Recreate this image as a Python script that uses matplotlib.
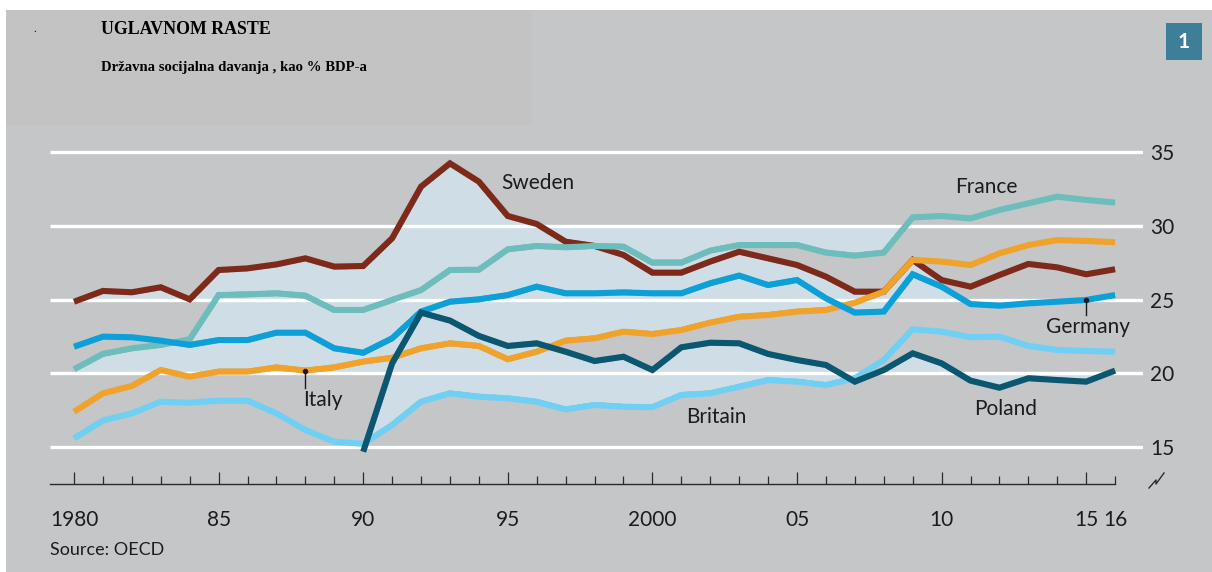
import numpy as np
import matplotlib
matplotlib.use("Agg")
import matplotlib.pyplot as plt
from matplotlib.patches import Rectangle
from matplotlib.lines import Line2D

# ---------------- data ----------------
years = list(range(1980, 2017))
sweden = [24.85, 25.58, 25.49, 25.83, 25.01, 27.0, 27.11, 27.38, 27.79, 27.23,
          27.27, 29.15, 32.65, 34.23, 32.99, 30.66, 30.12, 28.92, 28.63, 28.02,
          26.82, 26.82, 27.57, 28.24, 27.79, 27.34, 26.55, 25.53, 25.53, 27.68,
          26.32, 25.87, 26.66, 27.41, 27.18, 26.71, 27.05]
france = [20.27, 21.31, 21.69, 21.92, 22.3, 25.3, 25.35, 25.42, 25.26, 24.29,
          24.29, 24.97, 25.64, 27.0, 27.02, 28.4, 28.63, 28.54, 28.63, 28.58,
          27.5, 27.5, 28.31, 28.69, 28.69, 28.69, 28.18, 27.97, 28.18, 30.57,
          30.66, 30.5, 31.07, 31.52, 31.97, 31.75, 31.57]
germany = [21.8, 22.48, 22.44, 22.21, 21.92, 22.25, 22.25, 22.75, 22.75, 21.69,
           21.39, 22.37, 24.18, 24.85, 25.01, 25.3, 25.87, 25.42, 25.42, 25.48,
           25.42, 25.42, 26.1, 26.62, 25.98, 26.32, 25.08, 24.11, 24.18, 26.71,
           25.87, 24.69, 24.58, 24.74, 24.85, 24.97, 25.3]
italy = [17.39, 18.64, 19.14, 20.22, 19.77, 20.11, 20.11, 20.4, 20.18, 20.4,
         20.79, 21.05, 21.69, 22.03, 21.85, 20.95, 21.46, 22.21, 22.37, 22.82,
         22.66, 22.93, 23.43, 23.83, 23.95, 24.18, 24.29, 24.78, 25.53, 27.68,
         27.57, 27.34, 28.13, 28.69, 29.03, 28.97, 28.88]
britain = [15.59, 16.79, 17.28, 18.07, 18.0, 18.14, 18.14, 17.28, 16.15, 15.36,
           15.22, 16.49, 18.07, 18.64, 18.41, 18.3, 18.07, 17.55, 17.85, 17.73,
           17.7, 18.53, 18.64, 19.09, 19.54, 19.43, 19.2, 19.66, 20.9, 22.98,
           22.82, 22.44, 22.48, 21.85, 21.58, 21.51, 21.46]
poland_years = list(range(1990, 2017))
poland = [14.68, 20.67, 24.11, 23.57, 22.53, 21.85, 22.03, 21.46, 20.83, 21.12,
          20.22, 21.76, 22.07, 22.03, 21.31, 20.9, 20.56, 19.43, 20.22, 21.35,
          20.67, 19.5, 19.02, 19.66, 19.54, 19.43, 20.18]

y_ticks = [15, 20, 25, 30, 35]
x_major = [1980, 1985, 1990, 1995, 2000, 2005, 2010, 2015]
x_major_labels = ["1980", "85", "90", "95", "2000", "05", "10", "15"]

title = "UGLAVNOM RASTE"
subtitle = "Državna socijalna davanja , kao % BDP-a"
source = "Source: OECD"

series = [
    ("Sweden", years, sweden, "#7e2a1b"),
    ("France", years, france, "#6dbdbd"),
    ("Italy", years, italy, "#f0a22a"),
    ("Germany", years, germany, "#0ba0d8"),
    ("Britain", years, britain, "#6fd0f4"),
    ("Poland", poland_years, poland, "#0b5670"),
]

# ---------------- layout ----------------
W, H, DPI = 1212, 572, 100
PANEL = "#c4c6c8"
SHADE = "#cfdee6"
TXT = "#1c1c1c"
LW = 4.4
GRID_LW = 2.4
FONT = ["Lato", "DejaVu Sans"]

ax_rect = [50 / W, (H - 484) / H, (1143 - 50) / W, (484 - 130) / H]
x_lim = (1980 - 24 / 28.92, 1980 + (1143 - 74) / 28.92)
y_lim = (15 - 37 / 14.75, 15 + 317 / 14.75)


def setup_axes(fig):
    ax = fig.add_axes(ax_rect)
    ax.set_xlim(*x_lim)
    ax.set_ylim(*y_lim)
    ax.set_facecolor("none")
    return ax


def draw_lines(ax, grid_color, line_colors):
    for yv in y_ticks:
        ax.axhline(yv, color=grid_color, lw=GRID_LW, zorder=1, solid_capstyle="butt")
    for (name, xs, ys, c) in series:
        ax.plot(xs, ys, color=line_colors or c, lw=LW, zorder=3,
                solid_capstyle="butt", solid_joinstyle="miter")


# ---- compute the enclosed (light blue) regions: simulate a bucket fill from outside ----
mfig = plt.figure(figsize=(W / DPI, H / DPI), dpi=DPI, facecolor="white")
max_ = setup_axes(mfig)
max_.axis("off")
draw_lines(max_, "black", "black")
mfig.canvas.draw()
buf = np.asarray(mfig.canvas.buffer_rgba())[:, :, :3].astype(int)
plt.close(mfig)
free = buf.mean(axis=2) > 150


def propagate_rows(reach, free):
    h, w = free.shape
    starts = free.copy()
    starts[:, 1:] = free[:, 1:] & ~free[:, :-1]
    seg = np.cumsum(starts.ravel()).reshape(h, w)
    seg[~free] = 0
    hit = np.bincount(seg[reach & free], minlength=seg.max() + 1) > 0
    hit[0] = False
    return hit[seg]


reach = np.zeros_like(free)
reach[0, :] = free[0, :]
reach[-1, :] = free[-1, :]
reach[:, 0] = free[:, 0]
reach[:, -1] = free[:, -1]
prev = -1
while reach.sum() != prev:
    prev = reach.sum()
    reach = propagate_rows(reach, free)
    reach = propagate_rows(reach.T.copy(), free.T.copy()).T
enclosed = free & ~reach

shade_rgb = np.array(matplotlib.colors.to_rgb(SHADE))
img = np.zeros((H, W, 4))
img[enclosed, :3] = shade_rgb
img[enclosed, 3] = 1.0

# ---------------- main figure ----------------
fig = plt.figure(figsize=(W / DPI, H / DPI), dpi=DPI, facecolor="white")
fig.patches.append(Rectangle((6 / W, 0), 1 - 6 / W, (H - 10) / H, transform=fig.transFigure,
                             facecolor=PANEL, edgecolor="none", zorder=-3))
fig.figimage(img, xo=0, yo=0, origin="upper", zorder=-1)

ax = setup_axes(fig)
ax.set_zorder(1)
draw_lines(ax, "white", None)

# axes / ticks
for s in ["left", "right", "top"]:
    ax.spines[s].set_visible(False)
ax.spines["bottom"].set_bounds(x_lim[0], 2016)
ax.spines["bottom"].set_color("#2b2b2b")
ax.spines["bottom"].set_linewidth(1.0)
ax.set_xticks(x_major, x_major_labels)
ax.set_xticks(years, [""] * (len(years) - 1) + ["16"], minor=True)
ax.tick_params(axis="x", which="major", direction="in", length=8.5, width=0.9,
               color="#2b2b2b", pad=19, labelsize=15, labelcolor=TXT)
ax.tick_params(axis="x", which="minor", direction="in", length=6, width=0.9,
               color="#2b2b2b", pad=19, labelsize=15, labelcolor=TXT)
for lab in ax.get_xticklabels(which="both"):
    lab.set_family(FONT)
ax.yaxis.tick_right()
ax.set_yticks(y_ticks, [str(v) for v in y_ticks])
ax.tick_params(axis="y", length=0, pad=5, labelsize=15, labelcolor=TXT)
for lab in ax.get_yticklabels():
    lab.set_family(FONT)

# series labels
lab_kw = dict(fontsize=15, color=TXT, family=FONT, ha="center", va="center", zorder=5)
ax.text(1996.05, 32.9, "Sweden", **lab_kw)
ax.text(2011.55, 32.63, "France", **lab_kw)
ax.text(2015.06, 23.12, "Germany", **lab_kw)
ax.text(1988.6, 18.17, "Italy", **lab_kw)
ax.text(2002.2, 17.03, "Britain", **lab_kw)
ax.text(2012.2, 17.58, "Poland", **lab_kw)

# pointers
i_it = years.index(1988)
ax.plot([1988, 1988], [italy[i_it], 19.0], color=TXT, lw=1.0, zorder=5)
ax.plot([1988], [italy[i_it]], "o", color=TXT, ms=3, zorder=5)
i_ge = years.index(2015)
ax.plot([2015, 2015], [germany[i_ge], 23.95], color=TXT, lw=1.0, zorder=5)
ax.plot([2015], [germany[i_ge]], "o", color=TXT, ms=3, zorder=5)

# axis break symbol
zx = np.array([1149, 1156, 1156, 1164]) / W
zy = 1 - np.array([488, 480, 484, 473]) / H
fig.add_artist(Line2D(zx, zy, transform=fig.transFigure, color="#2b2b2b", lw=1.0))

# title box
fig.patches.append(Rectangle((6 / W, 1 - 125 / H), (532 - 6) / W, (125 - 10) / H,
                             transform=fig.transFigure, facecolor="#c3c3c3",
                             edgecolor="none", zorder=-2))
fig.text(101 / W, 1 - 29 / H, title, family="Liberation Serif", weight="bold",
         fontsize=12.9, color="black", ha="left", va="center")
fig.text(101 / W, 1 - 68 / H, subtitle, family="Liberation Serif", weight="bold",
         fontsize=10.6, color="black", ha="left", va="center")
fig.text(35 / W, 1 - 30 / H, ".", family="Liberation Serif", fontsize=8,
         color="black", ha="center", va="center")

# badge
fig.patches.append(Rectangle((1166 / W, 1 - 60 / H), 36 / W, 37 / H, transform=fig.transFigure,
                             facecolor="#3e7e98", edgecolor="none", zorder=2))
fig.text(1184 / W, 1 - 42 / H, "1", family=FONT, weight="bold", fontsize=15,
         color="white", ha="center", va="center", zorder=3)

# source
fig.text(50 / W, 1 - 550 / H, source, family=FONT, fontsize=13, color=TXT,
         ha="left", va="center")

fig.savefig("out.png", dpi=DPI)
